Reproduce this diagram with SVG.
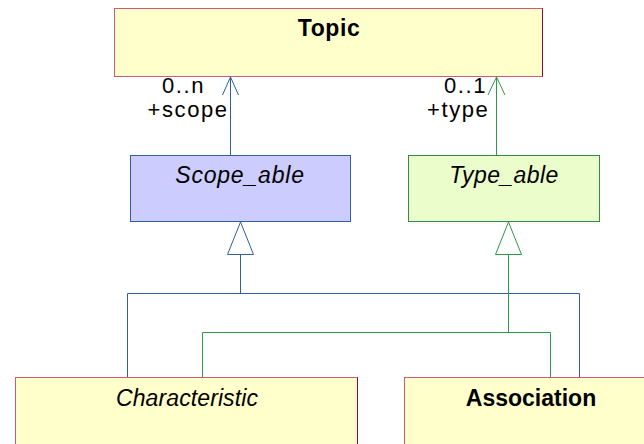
<svg xmlns="http://www.w3.org/2000/svg" width="644" height="444" viewBox="0 0 644 444">
<style>
.yel{fill:#ffffcc;stroke:#cc5a78}
.edge{stroke:#a0003a;stroke-width:1;fill:none}
.blu{fill:#ccccff;stroke:#2f5f9f}
.grn{fill:#eafdcb;stroke:#2e8b4a}
text{font-family:"Liberation Sans",Arial,sans-serif;fill:#000}
.name{font-size:23px;text-anchor:middle}
.b{font-weight:bold}
.i{font-style:italic}
.lbl{font-size:22px;letter-spacing:1.6px}
.lb{fill:none;stroke:#2f5f9f;stroke-width:1}
.lg{fill:none;stroke:#2e9a48;stroke-width:1}
.tri{fill:#ffffff}
</style>
<g id="Topic">
<rect class="yel" x="114.5" y="8.5" width="428" height="68"/>
<line class="edge" x1="542.5" y1="8.5" x2="542.5" y2="76.5"/>
<text class="name b" x="329" y="36" style="letter-spacing:0.6px">Topic</text>
</g>
<g id="Scope_able">
<rect class="blu" x="130.5" y="155.5" width="220" height="66"/>
<text class="name i" x="240" y="183" style="letter-spacing:0.8px">Scope_able</text>
</g>
<g id="Type_able">
<rect class="grn" x="408.5" y="155.5" width="191" height="66"/>
<text class="name i" x="504" y="183" style="letter-spacing:0.4px">Type_able</text>
</g>
<g id="Characteristic">
<rect class="yel" x="15.5" y="377.5" width="342" height="80"/>
<line class="edge" x1="357.5" y1="377.5" x2="357.5" y2="444"/>
<text class="name i" x="187" y="405.5" style="letter-spacing:0.1px">Characteristic</text>
</g>
<g id="Association">
<rect class="yel" x="404.5" y="377.5" width="250" height="80"/>
<text class="name b" x="531" y="405.5">Association</text>
</g>
<g id="connectors">
<line class="lb" x1="230.5" y1="155" x2="230.5" y2="77"/>
<polyline class="lb" points="222.5,95 230.5,77 238.5,95"/>
<text class="lbl" x="162" y="93">0..n</text>
<text class="lbl" x="147.5" y="117">+scope</text>
<line class="lg" x1="496.5" y1="155" x2="496.5" y2="77"/>
<polyline class="lg" points="488,95 496.5,77 505,95"/>
<text class="lbl" x="444" y="93">0..1</text>
<text class="lbl" x="427" y="117">+type</text>
<polygon class="lb tri" points="240.5,222 227.5,254.5 253.5,254.5"/>
<line class="lb" x1="240.5" y1="254.5" x2="240.5" y2="293.5"/>
<polyline class="lb" points="127.5,377 127.5,293.5 579.5,293.5 579.5,377"/>
<polygon class="lg tri" points="508.5,222 495.5,254.5 521.5,254.5"/>
<line class="lg" x1="508.5" y1="254.5" x2="508.5" y2="332.5"/>
<polyline class="lg" points="202.5,377 202.5,332.5 550.5,332.5 550.5,377"/>
</g>
</svg>
